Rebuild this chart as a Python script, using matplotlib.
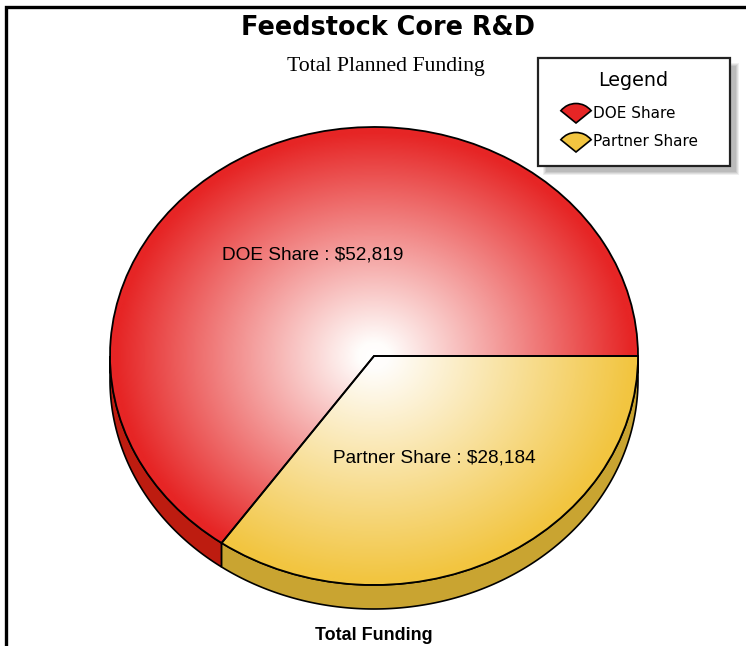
import numpy as np
import matplotlib
matplotlib.use('Agg')
import matplotlib.pyplot as plt
from matplotlib.colors import LinearSegmentedColormap
from matplotlib.patches import Rectangle, Wedge, Polygon

categories = ['DOE Share', 'Partner Share']
funding = [52819, 28184]
top_colors = ['#e62525', '#f2c540']
side_colors = ['#bd1c10', '#c9a431']

title = 'Feedstock Core R&D'
subtitle = 'Total Planned Funding'
xlabel = 'Total Funding'

W, H = 746, 646
DEPTH = 24 / 229  # pie thickness in pie axes units

fig = plt.figure(figsize=(W / 100, H / 100), dpi=100, facecolor='white')

# --- pie, squashed into an ellipse by its own axes box ---
pie_ax = fig.add_axes([110 / W, (H - 585) / H, 528 / W, 458 / H])
wedges, _ = pie_ax.pie(funding, startangle=0, counterclock=True, radius=1,
                       wedgeprops=dict(edgecolor='black', linewidth=1.3, facecolor='none', zorder=5))
pie_ax.set_aspect('auto')
pie_ax.set_xlim(-1, 1)
pie_ax.set_ylim(-1, 1)
pie_ax.axis('off')

# radial fill, white in the middle
xx, yy = np.meshgrid(np.linspace(-1, 1, 600), np.linspace(-1, 1, 600))
rr = np.clip(np.hypot(xx, yy), 0, 1)
for wedge, col in zip(wedges, top_colors):
    cmap = LinearSegmentedColormap.from_list('fade', [(0, 'white'), (0.06, '#fffdfb'), (1, col)])
    im = pie_ax.imshow(rr, extent=(-1, 1, -1, 1), origin='lower', cmap=cmap, vmin=0, vmax=0.98,
                       aspect='auto', zorder=2)
    im.set_clip_path(wedge)

# side wall, only the part of each slice on the lower half shows
start = 0
total = sum(funding)
for val, col in zip(funding, side_colors):
    end = start + 360 * val / total
    a1, a2 = max(start, 180), end
    if a2 > a1:
        t = np.radians(np.linspace(a1, a2, 200))
        x, y = np.cos(t), np.sin(t)
        pts = np.r_[np.c_[x, y], np.c_[x[::-1], y[::-1] - DEPTH]]
        pie_ax.add_patch(Polygon(pts, closed=True, facecolor=col, edgecolor='black',
                                 linewidth=1.2, zorder=1, clip_on=False))
    start = end

# --- overlay in pixel coordinates for text, frame and legend ---
ax = fig.add_axes([0, 0, 1, 1], zorder=10)
ax.set_xlim(0, W)
ax.set_ylim(H, 0)
ax.axis('off')
ax.patch.set_alpha(0)

ax.plot([5.5, 5.5, W], [H, 6.5, 6.5], color='black', linewidth=2.4, solid_joinstyle='miter')

ax.text(388, 28, title, ha='center', va='center', fontsize=18.4, fontweight='bold', family='DejaVu Sans')
ax.text(385.5, 66.5, subtitle, ha='center', va='center', fontsize=15.7, family='Liberation Serif')
ax.text(374, 635, xlabel, ha='center', va='center', fontsize=12.9, fontweight='bold', family='Liberation Sans')

label_pos = [(313, 255), (434, 458)]
for name, val, (lx, ly) in zip(categories, funding, label_pos):
    ax.text(lx, ly, f'{name} : ${val:,}'.replace('$', r'\$'), ha='center', va='center',
            fontsize=13.7, family='Liberation Sans')

# legend with soft shadow
for grow, alpha in zip([2, 1, 0, -1], [0.15, 0.2, 0.25, 0.3]):
    ax.add_patch(Rectangle((545 - grow, 65 - grow), 192 + 2 * grow, 108 + 2 * grow,
                           facecolor='#999999', edgecolor='none', alpha=alpha))
ax.add_patch(Rectangle((537.5, 57.5), 192, 108, facecolor='white', edgecolor='#222222', linewidth=1.6))
ax.text(633, 81, 'Legend', ha='center', va='center', fontsize=13.8, family='DejaVu Sans')

marker_y = [123, 152]
text_y = [113, 142]
for name, col, my, ty in zip(categories, top_colors, marker_y, text_y):
    ax.add_patch(Wedge((576, my), 19.5, -141, -39, facecolor=col, edgecolor='black', linewidth=1.2))
    ax.text(593, ty, name, ha='left', va='center', fontsize=11, family='DejaVu Sans')

fig.savefig('out.png', dpi=100)
